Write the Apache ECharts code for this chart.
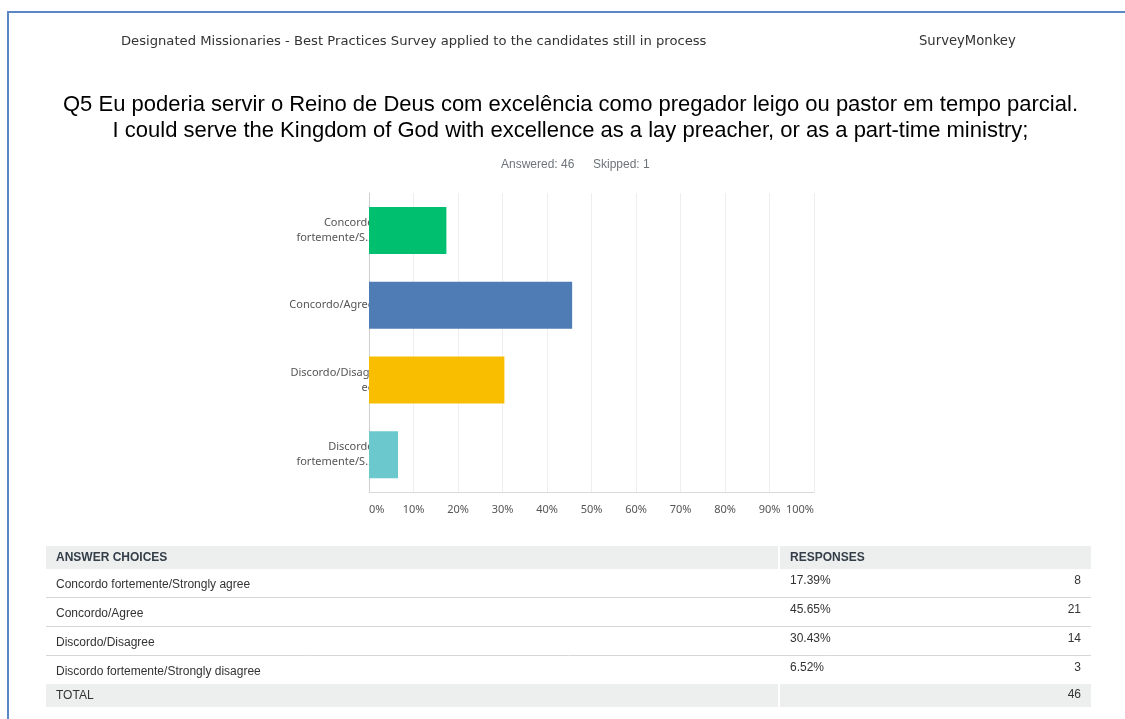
<!DOCTYPE html>
<html>
<head>
<meta charset="utf-8">
<script src="https://cdn.jsdelivr.net/npm/echarts@6/dist/echarts.min.js"></script>
<style>
  html, body { margin: 0; padding: 0; background: #fff; }
  #chart { width: 1125px; height: 719px; }
</style>
</head>
<body>
<div id="chart"></div>
<script>
// Survey question Q5 — answer choices, shares and counts
const choices = [
  'Concordo fortemente/Strongly agree',
  'Concordo/Agree',
  'Discordo/Disagree',
  'Discordo fortemente/Strongly disagree'
];
const axisLabels = [
  'Concordo\nfortemente/S...',
  'Concordo/Agree',
  'Discordo/Disagr\nee',
  'Discordo\nfortemente/S...'
];
const percents = [17.39, 45.65, 30.43, 6.52];
const counts = [8, 21, 14, 3];
const total = 46;
const answered = 46;
const skipped = 1;
const barColors = ['#00bf6f', '#507cb6', '#f9be00', '#6bc8cd'];
const xTicks = [0, 10, 20, 30, 40, 50, 60, 70, 80, 90, 100];

const headerText = 'Designated Missionaries - Best Practices Survey applied to the candidates still in process';
const brandText = 'SurveyMonkey';
const titleLines = [
  'Q5 Eu poderia servir o Reino de Deus com excelência como pregador leigo ou pastor em tempo parcial.',
  'I could serve the Kingdom of God with excellence as a lay preacher, or as a part-time ministry;'
];

const chart = echarts.init(document.getElementById('chart'));

// Page frame, header, question title
const graphics = [
  { type: 'line', shape: { x1: 8, y1: 12, x2: 1125, y2: 12 }, style: { stroke: '#5b87c5', lineWidth: 2 } },
  { type: 'line', shape: { x1: 8, y1: 11, x2: 8, y2: 719 }, style: { stroke: '#5b87c5', lineWidth: 2 } },
  { type: 'text', x: 121, y: 41.5, style: { text: headerText, font: '13.15px "DejaVu Sans"', fill: '#333', textVerticalAlign: 'middle' } },
  { type: 'text', x: 919, y: 41.5, style: { text: brandText, font: '13.2px "DejaVu Sans"', fill: '#333', textVerticalAlign: 'middle' } },
  { type: 'text', x: 570.5, y: 105, style: { text: titleLines[0], font: '22px "Liberation Sans"', fill: '#000', textAlign: 'center', textVerticalAlign: 'middle' } },
  { type: 'text', x: 570.5, y: 131, style: { text: titleLines[1], font: '22px "Liberation Sans"', fill: '#000', textAlign: 'center', textVerticalAlign: 'middle' } },
  { type: 'text', x: 501, y: 165, style: { text: 'Answered: ' + answered, font: '12px "Liberation Sans"', fill: '#6d7479', textVerticalAlign: 'middle' } },
  { type: 'text', x: 593, y: 165, style: { text: 'Skipped: ' + skipped, font: '12px "Liberation Sans"', fill: '#6d7479', textVerticalAlign: 'middle' } }
];

// Summary table below the chart
const tL = 46, tR = 1091, tSplit = 779;
const tableFont = '12px "Liberation Sans"';
graphics.push(
  { type: 'rect', shape: { x: tL, y: 546, width: tSplit - tL - 1, height: 23 }, style: { fill: '#edeeee' } },
  { type: 'rect', shape: { x: tSplit + 1, y: 546, width: tR - tSplit - 1, height: 23 }, style: { fill: '#edeeee' } },
  { type: 'text', x: 56, y: 558, style: { text: 'ANSWER CHOICES', font: 'bold 12px "Liberation Sans"', fill: '#333e48', textVerticalAlign: 'middle' } },
  { type: 'text', x: 790, y: 558, style: { text: 'RESPONSES', font: 'bold 12px "Liberation Sans"', fill: '#333e48', textVerticalAlign: 'middle' } }
);
const rowTop = [569, 598, 627, 656];
choices.forEach(function (c, i) {
  graphics.push(
    { type: 'text', x: 56, y: rowTop[i] + 16, style: { text: c, font: tableFont, fill: '#333', textVerticalAlign: 'middle' } },
    { type: 'text', x: 790, y: rowTop[i] + 12, style: { text: percents[i].toFixed(2) + '%', font: tableFont, fill: '#333', textVerticalAlign: 'middle' } },
    { type: 'text', x: 1081, y: rowTop[i] + 12, style: { text: String(counts[i]), font: tableFont, fill: '#333', textAlign: 'right', textVerticalAlign: 'middle' } }
  );
  if (i < choices.length - 1) {
    graphics.push({ type: 'line', shape: { x1: tL, y1: rowTop[i] + 28.5, x2: tR, y2: rowTop[i] + 28.5 }, style: { stroke: '#d6d6d6', lineWidth: 1 } });
  }
});
graphics.push(
  { type: 'rect', shape: { x: tL, y: 684, width: tSplit - tL - 1, height: 23 }, style: { fill: '#edeeee' } },
  { type: 'rect', shape: { x: tSplit + 1, y: 684, width: tR - tSplit - 1, height: 23 }, style: { fill: '#edeeee' } },
  { type: 'text', x: 56, y: 696, style: { text: 'TOTAL', font: tableFont, fill: '#333', textVerticalAlign: 'middle' } },
  { type: 'text', x: 1081, y: 695, style: { text: String(total), font: tableFont, fill: '#333', textAlign: 'right', textVerticalAlign: 'middle' } }
);

chart.setOption({
  animation: false,
  backgroundColor: '#fff',
  grid: { left: 369, right: 311, top: 193, bottom: 227, containLabel: false },
  xAxis: {
    type: 'value',
    min: xTicks[0],
    max: xTicks[xTicks.length - 1],
    interval: 10,
    axisLine: { show: true, lineStyle: { color: '#d9d9d9' } },
    axisTick: { show: false },
    splitLine: { show: true, lineStyle: { color: '#eeeeee' } },
    axisLabel: {
      formatter: '{value}%',
      color: '#555',
      fontFamily: 'Noto Sans',
      fontSize: 11,
      margin: 12,
      alignMinLabel: 'left',
      alignMaxLabel: 'right'
    }
  },
  yAxis: {
    type: 'category',
    inverse: true,
    data: axisLabels,
    axisLine: { show: true, lineStyle: { color: '#cfcfcf' } },
    axisTick: { show: false },
    axisLabel: {
      color: '#555',
      fontFamily: 'Noto Sans',
      fontSize: 11,
      lineHeight: 15,
      margin: -5,
      align: 'right'
    }
  },
  series: [{
    type: 'bar',
    barWidth: 47,
    data: percents.map(function (v, i) { return { value: v, itemStyle: { color: barColors[i] } }; }),
    z: 1
  }],
  graphic: graphics
});
</script>
</body>
</html>
